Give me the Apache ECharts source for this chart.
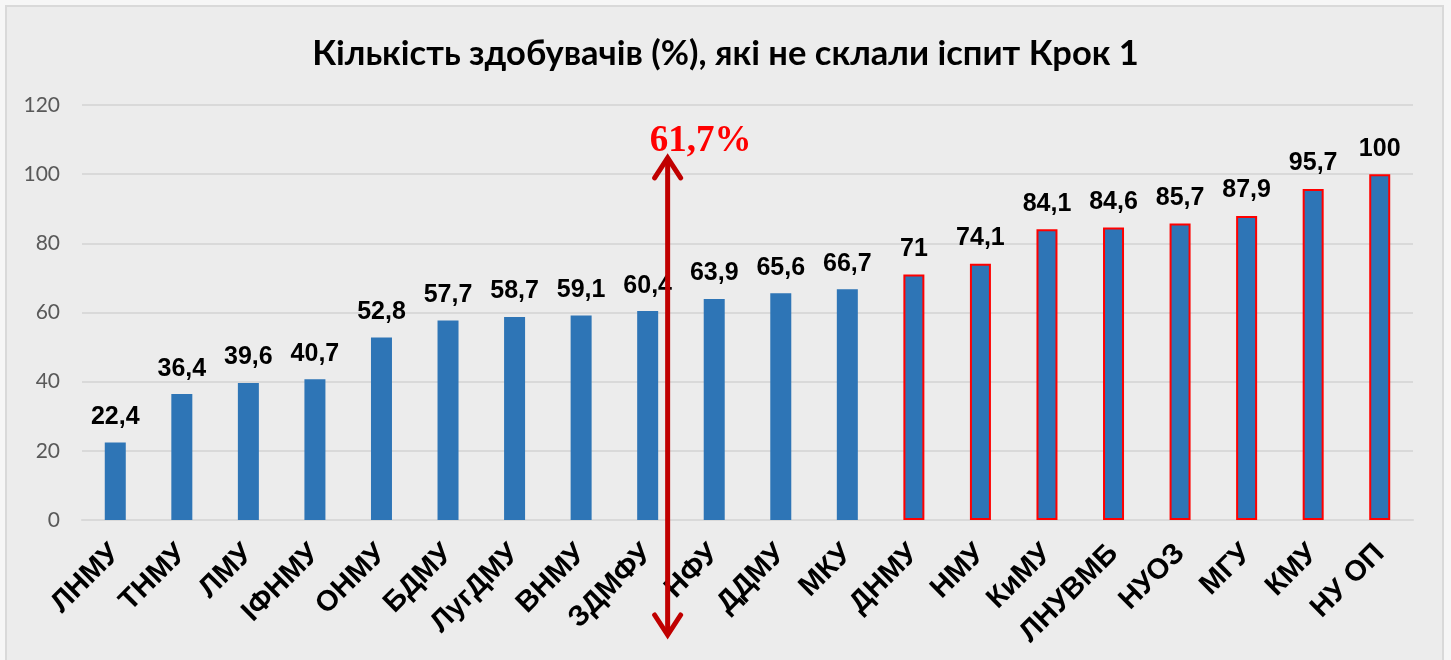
<!DOCTYPE html>
<html>
<head>
<meta charset="utf-8">
<script src="https://cdn.jsdelivr.net/npm/echarts@6/dist/echarts.min.js"></script>
<style>
  html, body { margin: 0; padding: 0; background: #f6f6f6; }
  #chart { width: 1451px; height: 660px; }
</style>
</head>
<body>
<div id="chart"></div>
<script>
// Кількість здобувачів (%), які не склали іспит Крок 1
const universities = ['ЛНМУ', 'ТНМУ', 'ЛМУ', 'ІФНМУ', 'ОНМУ', 'БДМУ', 'ЛугДМУ', 'ВНМУ', 'ЗДМФУ', 'НФУ',
  'ДДМУ', 'МКУ', 'ДНМУ', 'НМУ', 'КиМУ', 'ЛНУВМБ', 'НУОЗ', 'МГУ', 'КМУ', 'НУ ОП'];
const failedPct = [22.4, 36.4, 39.6, 40.7, 52.8, 57.7, 58.7, 59.1, 60.4, 63.9,
  65.6, 66.7, 71, 74.1, 84.1, 84.6, 85.7, 87.9, 95.7, 100];
const yTicks = [0, 120, 20]; // min, max, step
const averageLabel = '61,7%';
const outlinedFrom = 12; // bars from ДНМУ onward have red outline

const chart = echarts.init(document.getElementById('chart'));

const barData = failedPct.map((v, i) => i >= outlinedFrom
  ? { value: v, itemStyle: { borderColor: '#ff0000', borderWidth: 2 } }
  : v);

const option = {
  backgroundColor: '#f6f6f6',
  animation: false,
  title: {
    text: 'Кількість здобувачів (%), які не склали іспит Крок 1',
    left: 'center',
    top: 31,
    textStyle: { fontFamily: 'Lato', fontWeight: 'bold', fontSize: 34.5, color: '#000' }
  },
  grid: { left: 82, right: 38, top: 105, bottom: 140 },
  xAxis: {
    type: 'category',
    data: universities,
    axisTick: { show: false },
    axisLine: { lineStyle: { color: '#d9d9d9', width: 2 } },
    axisLabel: {
      rotate: 45,
      interval: 0,
      margin: 29,
      fontFamily: 'Liberation Sans',
      fontWeight: 'bold',
      fontSize: 29,
      color: '#000'
    }
  },
  yAxis: {
    type: 'value',
    min: yTicks[0],
    max: yTicks[1],
    interval: yTicks[2],
    axisLine: { show: false },
    axisTick: { show: false },
    splitLine: { lineStyle: { color: '#d9d9d9', width: 2 } },
    axisLabel: { margin: 22, fontFamily: 'Lato', fontSize: 21, color: '#595959' }
  },
  series: [{
    type: 'bar',
    data: barData,
    barWidth: 21,
    itemStyle: { color: '#2e75b6' },
    label: {
      show: true,
      position: 'top',
      distance: 13,
      fontFamily: 'Liberation Sans',
      fontWeight: 'bold',
      fontSize: 25,
      color: '#000',
      formatter: p => String(p.value).replace('.', ',')
    }
  }]
};
chart.setOption(option);

// background panel + arrow annotation
const p8 = chart.convertToPixel({ gridIndex: 0 }, [8, 105.3]);
const p9 = chart.convertToPixel({ gridIndex: 0 }, [9, 0]);
const ax = p8[0] + (p9[0] - p8[0]) * 0.3;
const yTop = p8[1];
const yBot = p9[1] + 117;
const arrowColor = '#c00000';

chart.setOption({
  graphic: [
    {
      type: 'rect', z: -10, silent: true,
      shape: { x: 6, y: 6, width: 1437, height: 660 },
      style: { fill: '#ececec', stroke: '#d9d9d9', lineWidth: 2 }
    },
    {
      type: 'line', z: 10, silent: true,
      shape: { x1: ax, y1: yTop + 2, x2: ax, y2: yBot - 2 },
      style: { stroke: arrowColor, lineWidth: 5 }
    },
    {
      type: 'polyline', z: 10, silent: true,
      shape: { points: [[ax - 13, yTop + 22], [ax, yTop + 2], [ax + 13, yTop + 22]] },
      style: { stroke: arrowColor, lineWidth: 5, fill: null, lineCap: 'round', lineJoin: 'miter' }
    },
    {
      type: 'polyline', z: 10, silent: true,
      shape: { points: [[ax - 13, yBot - 22], [ax, yBot - 2], [ax + 13, yBot - 22]] },
      style: { stroke: arrowColor, lineWidth: 5, fill: null, lineCap: 'round', lineJoin: 'miter' }
    },
    {
      type: 'text', z: 10, silent: true,
      x: ax + 33, y: yTop - 14,
      style: {
        text: averageLabel,
        fill: '#ff0000',
        font: 'bold 37px "Liberation Serif"',
        align: 'center',
        verticalAlign: 'middle'
      }
    }
  ]
});
</script>
</body>
</html>
